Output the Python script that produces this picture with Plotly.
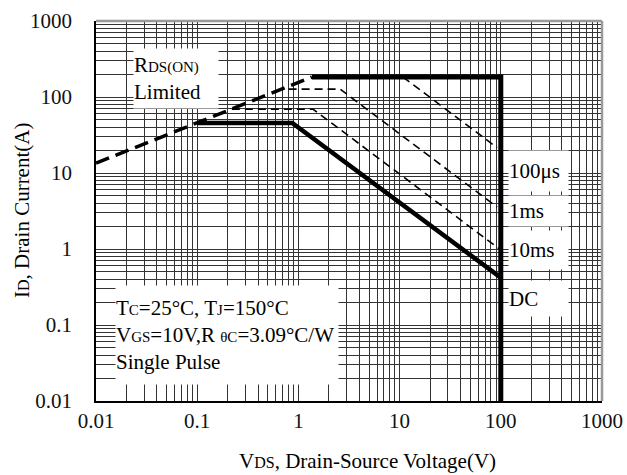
import plotly.graph_objects as go

# ---- data ----
rds_v = [0.01, 1.36]
rds_i = [13.5, 183]

limit_v = [1.36, 100, 100]
limit_i = [183, 183, 0.01]

us100_v = [10.8, 92]
us100_i = [183, 21.5]

ms1_v = [0.8, 2.58, 92]
ms1_i = [127, 127, 3.56]

ms10_v = [0.22, 1.4, 97]
ms10_i = [69, 69, 1.0]

dc_v = [0.1, 0.87, 100]
dc_i = [45.6, 45.6, 0.42]

decades = [0.01, 0.1, 1, 10, 100, 1000]
decade_labels = ["0.01", "0.1", "1", "10", "100", "1000"]

FONT = "Liberation Serif"

# grid values: 1..9 per decade
grid_vals = []
grid_text = []
for k, d in enumerate(decades[:-1]):
    for m in range(1, 10):
        grid_vals.append(d * m)
        grid_text.append(decade_labels[k] if m == 1 else "")
grid_vals.append(decades[-1])
grid_text.append(decade_labels[-1])

fig = go.Figure()

thin_dash = dict(color="black", width=1.6, dash="8px,5px")
fig.add_trace(go.Scatter(x=rds_v, y=rds_i, mode="lines",
                         line=dict(color="black", width=3.5, dash="14px,7px")))
fig.add_trace(go.Scatter(x=us100_v, y=us100_i, mode="lines", line=thin_dash))
fig.add_trace(go.Scatter(x=ms1_v, y=ms1_i, mode="lines", line=thin_dash))
fig.add_trace(go.Scatter(x=ms10_v, y=ms10_i, mode="lines", line=thin_dash))
fig.add_trace(go.Scatter(x=dc_v, y=dc_i, mode="lines",
                         line=dict(color="black", width=4.5)))
fig.add_trace(go.Scatter(x=limit_v, y=limit_i, mode="lines",
                         line=dict(color="black", width=5)))

W, H = 627, 475
PL, PT, PR, PB = 96, 21, 602, 401          # plot area in page pixels
L, T = PL, PT
pw, ph = PR - PL, PB - PT
R, B = W - L - pw, H - T - ph


def px(x):
    return (x - PL) / pw


def py(y):
    return (PB - y) / ph


small = lambda s, sz=15: f"<span style='font-size:{sz}px'>{s}</span>"

annos = []
# RDS(ON) box
annos.append(dict(x=px(133), y=py(48), xanchor="left", yanchor="top",
                  width=84, height=59, align="left",
                  text="R" + small("DS(ON)") + "<br>Limited"))
# conditions box
annos.append(dict(x=px(115), y=py(285), xanchor="left", yanchor="top",
                  width=222, height=98, align="left",
                  text="T" + small("C") + "=25°C, T" + small("J") + "=150°C<br>"
                       "V" + small("GS") + "=10V,R " + small("θC") + "=3.09°C/W<br>"
                       "Single Pulse"))
# right labels
for txt, y0, h in [("100μs", 150, 40), ("1ms", 195, 30), ("10ms", 230, 38), ("DC", 280, 35)]:
    annos.append(dict(x=px(508), y=py(y0), xanchor="left", yanchor="top",
                      width=59, height=h, align="left", text=txt))

for a in annos:
    a.update(xref="paper", yref="paper", showarrow=False, bgcolor="white",
             borderpad=0, font=dict(family=FONT, size=21, color="black"))

# axis titles
annos.append(dict(xref="paper", yref="paper", x=px(22), y=0.5, showarrow=False,
                  xanchor="center", yanchor="middle",
                  textangle=-90, text="I" + small("D", 16) + ", Drain Current(A)",
                  font=dict(family=FONT, size=21, color="black")))
annos.append(dict(xref="paper", yref="paper", x=px(367.5), y=py(461), showarrow=False,
                  xanchor="center", yanchor="middle",
                  text="V" + small("DS", 16) + ", Drain-Source Voltage(V)",
                  font=dict(family=FONT, size=21, color="black")))

axis_common = dict(type="log", range=[-2, 3], tickvals=grid_vals, ticktext=grid_text,
                   showgrid=True, gridcolor="#333", gridwidth=1, zeroline=False,
                   showline=True, linecolor="black", linewidth=1.5, automargin=False,
                   ticks="", tickfont=dict(family=FONT, size=21, color="#111"))

fig.update_layout(
    width=W, height=H,
    margin=dict(l=L, r=R, t=T, b=B, autoexpand=False),
    paper_bgcolor="white", plot_bgcolor="white",
    showlegend=False,
    hovermode=False,
    xaxis=dict(**axis_common, ticklabelstandoff=0),
    yaxis=dict(**axis_common, ticklabelstandoff=18),
    annotations=annos,
    shapes=[
        dict(type="line", xref="paper", yref="paper", x0=0, x1=1, y0=1, y1=1,
             line=dict(color="#999", width=2.5)),
        dict(type="line", xref="paper", yref="paper", x0=1, x1=1, y0=0, y1=1,
             line=dict(color="#999", width=2.5)),
    ],
)

fig.write_html(
    "out.html",
    config={"displayModeBar": False},
    post_script="document.body.style.margin='0';document.body.style.overflow='hidden';",
)
